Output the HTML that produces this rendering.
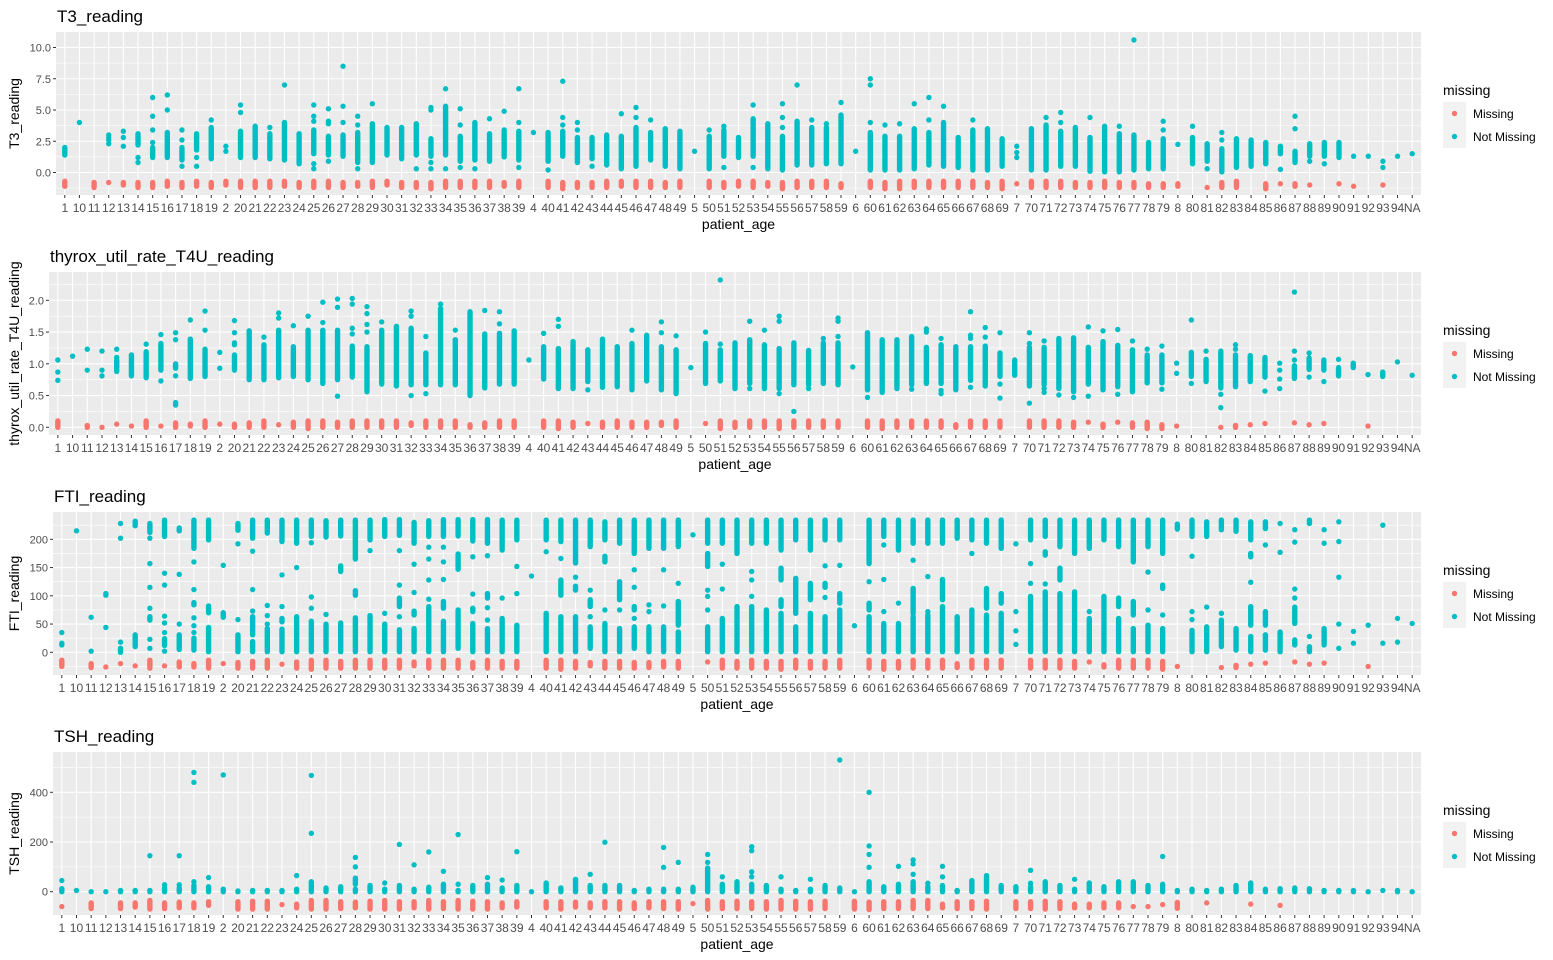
<!DOCTYPE html>
<html><head><meta charset="utf-8"><style>
html,body{margin:0;padding:0;background:#fff;}
svg{display:block;font-family:"Liberation Sans",Arial,sans-serif;}
</style></head><body>
<svg id="chart" width="1553" height="960" viewBox="0 0 1553 960" xmlns="http://www.w3.org/2000/svg"></svg>
<script>
const categories = ["1","10","11","12","13","14","15","16","17","18","19","2","20","21","22","23","24","25","26","27","28","29","30","31","32","33","34","35","36","37","38","39","4","40","41","42","43","44","45","46","47","48","49","5","50","51","52","53","54","55","56","57","58","59","6","60","61","62","63","64","65","66","67","68","69","7","70","71","72","73","74","75","76","77","78","79","8","80","81","82","83","84","85","86","87","88","89","90","91","92","93","94","NA"];

const t3Present = [[[1.4,2.0]],[4.0],[],[2.3,2.6,2.8,3.0],[2.1,2.8,3.3],[[2.2,3.1],1.2,0.8],[[1.2,2.0],2.4,3.4,4.5,6.0],[[1.2,3.2],5.0,6.2],[[1.0,2.0],0.5,2.6,3.4],[[1.8,3.1],1.2,0.5],[[1.1,3.6],4.2],[1.7,2.1],[[1.2,3.3],4.8,5.4],[[1.2,3.7]],[[1.1,3.1],3.6],[[1.0,4.0],7.0],[[0.7,3.1]],[[1.5,3.4],0.7,0.3,4.1,4.5,5.4],[[1.4,2.9],0.9,3.9,4.1,5.1],[[1.3,3.0],4.0,5.3,8.5],[[0.8,3.2],0.3,3.8,4.5],[[0.8,3.9],5.5],[[1.4,3.6]],[[1.1,3.6]],[[1.4,3.9],0.3],[[1.3,2.7],0.3,0.8,5.0,5.2],[[1.4,5.3],0.3,6.7],[[0.9,2.9],0.4,3.8,5.1],[[1.0,4.0],0.3],[[0.9,3.1],4.3],[[1.25,3.4],4.9],[[1.0,3.3],0.4,4.0,6.7],[3.2],[[0.9,3.2],0.2],[[1.3,3.3],3.8,4.4,7.3],[[0.8,2.8],3.4,4.0],[[1.1,2.8],0.5],[[0.6,3.0]],[[0.3,2.9],4.7],[[0.5,3.6],4.4,5.2],[[1.0,3.2],4.2],[[0.5,3.5]],[[0.3,3.3]],[1.7],[[0.3,2.9],3.4],[[1.3,3.4],0.4,3.7],[[1.2,2.8]],[[1.3,4.3],0.4,5.4],[[0.3,3.9]],[[0.2,2.9],3.6,4.4,5.5],[[0.6,4.1],7.0],[[0.6,3.6],4.2],[[0.7,3.6],3.9],[[0.7,4.6],5.6],[1.7],[[0.2,3.2],4.0,7.0,7.5],[[0.2,2.9],3.8],[[0.2,2.9],3.9],[[0.3,3.5],5.5],[[0.6,3.2],4.2,6.0],[[0.5,4.0],5.3],[[0.4,2.8]],[[0.2,3.4],4.2],[[0.2,3.5]],[[0.5,2.7]],[1.2,1.6,2.1],[[0.2,3.5]],[[0.2,3.8],4.4],[[0.5,3.3],4.0,4.8],[[0.5,3.6]],[[0.1,2.8],4.4],[[0.05,3.7]],[[0.05,3.1],3.7],[[0.2,3.0],10.6],[[0.3,2.4]],[[0.3,2.7],3.4,4.1],[2.25],[[0.7,2.8],3.7],[[0.9,2.3],0.3],[[0.05,1.9],2.6,3.2],[[0.4,2.7]],[[0.5,2.6]],[[0.7,2.4]],[[1.5,2.1],0.25],[[0.8,1.7],3.5,4.5],[[1.3,2.3],0.9],[[1.3,2.4],0.7],[[1.2,2.4]],[1.3],[1.3],[0.9,0.4],[1.3],[1.5]];
const t3Missing = [[[-1.1,-0.7]],[],[[-1.2,-0.8]],[-0.8],[[-1.0,-0.8]],[[-1.2,-0.8]],[[-1.2,-0.8]],[[-1.1,-0.7]],[[-1.2,-0.8]],[[-1.1,-0.7]],[[-1.2,-0.8]],[[-1.0,-0.7]],[[-1.2,-0.7]],[[-1.2,-0.7]],[[-1.2,-0.7]],[[-1.1,-0.7]],[[-1.2,-0.8]],[[-1.2,-0.7]],[[-1.2,-0.7]],[[-1.2,-0.8]],[[-1.1,-0.8]],[[-1.2,-0.7]],[[-1.0,-0.7]],[[-1.2,-0.8]],[[-1.2,-0.8]],[[-1.3,-0.8]],[[-1.2,-0.7]],[[-1.2,-0.7]],[[-1.2,-0.7]],[[-1.2,-0.7]],[[-1.1,-0.8]],[[-1.2,-0.7]],[],[[-1.2,-0.7]],[[-1.3,-0.8]],[[-1.2,-0.8]],[[-1.2,-0.8]],[[-1.2,-0.7]],[[-1.1,-0.7]],[[-1.2,-0.7]],[[-1.2,-0.7]],[[-1.2,-0.8]],[[-1.2,-0.7]],[],[[-1.2,-0.7]],[[-1.2,-0.8]],[[-1.1,-0.7]],[[-1.2,-0.7]],[[-1.1,-0.8]],[[-1.3,-0.8]],[[-1.2,-0.7]],[[-1.2,-0.7]],[[-1.2,-0.7]],[[-1.2,-0.9]],[],[[-1.2,-0.7]],[[-1.3,-0.8]],[[-1.3,-0.7]],[[-1.2,-0.7]],[[-1.2,-0.7]],[[-1.2,-0.7]],[[-1.2,-0.7]],[[-1.2,-0.7]],[[-1.2,-0.8]],[[-1.3,-0.7]],[-0.9],[[-1.2,-0.7]],[[-1.2,-0.7]],[[-1.2,-0.7]],[[-1.2,-0.8]],[[-1.2,-0.8]],[[-1.2,-0.7]],[[-1.2,-0.8]],[[-1.2,-0.8]],[[-1.2,-0.9]],[[-1.2,-0.9]],[[-1.1,-0.9]],[],[-1.2],[[-1.2,-0.8]],[[-1.2,-0.7]],[],[[-1.3,-0.9]],[-0.9],[[-1.1,-0.9]],[-1.0],[],[-0.9],[-1.1],[],[-1.0],[]];

const t4uPresent = [[1.06,0.87,0.74],[1.12],[1.23,0.9],[1.2,0.9,0.81],[[0.88,1.06],1.1,1.23],[[0.81,1.14]],[[0.78,1.19],1.31],[[0.9,1.32],1.46,0.73],[1.49,1.38,[0.93,1.0],0.81,[0.35,0.39]],[[0.77,1.39],1.69],[[0.8,1.23],1.53,1.83],[1.18,0.93],[[0.9,1.14],1.3,1.33,1.49,1.68],[[0.75,1.52]],[[0.75,1.3],1.42],[[0.78,1.53],1.72,1.8],[[0.8,1.27],1.6],[[0.75,1.53],1.75],[[0.69,1.53],1.65,1.97],[[0.75,1.53],1.89,2.02,0.49],[[0.79,1.28],1.47,1.56,1.94,2.03],[[0.59,1.27],1.5,1.62,1.79,1.9,0.56],[[0.68,1.53],1.66],[[0.65,1.59]],[[0.67,1.56],1.75,1.83,0.5],[[0.67,1.17],1.43,0.53],[[0.67,1.87],1.94],[[0.67,1.38],1.53],[[0.5,1.82]],[[0.62,1.47],1.84],[[0.68,1.48],1.82,1.63],[[0.68,1.52]],[1.06],[[0.76,1.27],1.48],[[0.61,1.24],1.59,1.70],[[0.61,1.35]],[[0.72,1.22],0.59],[[0.63,1.39]],[[0.64,1.27]],[[0.59,1.32],1.53],[[0.73,1.45]],[[0.59,1.27],1.66,1.49],[[0.53,1.22],1.44],[0.94],[[0.69,1.32],1.5],[[0.73,1.22],2.32,1.31],[[0.61,1.33]],[[0.69,1.38],1.67,0.61],[[0.61,1.3],1.53],[[0.61,1.24],1.67,1.75,0.53],[[0.67,1.33],0.25],[[0.67,1.21],0.61],[[0.69,1.33],1.4],[[0.67,1.33],1.43,1.67,1.72],[0.95],[[0.59,1.49],0.47],[[0.55,1.38]],[[0.61,1.38]],[[0.67,1.43],0.6],[[0.69,1.26],1.5,1.55],[[0.69,1.3],1.4,0.53,0.58],[[0.59,1.27]],[[0.74,1.27],1.4,1.45,1.82,0.63],[[0.65,1.28],1.42,1.57],[[0.8,1.17],1.49,0.68,0.46],[[0.82,1.06]],[[0.65,1.26],1.49,1.32,0.38],[[0.67,1.26],1.36,0.55,0.61],[[0.61,1.4],0.51],[[0.56,1.41],0.47],[[0.68,1.26],1.58,0.49],[[0.59,1.35],1.52],[[0.64,1.29],1.54,0.52],[[0.56,1.22],1.36],[[0.7,1.14],1.23],[[0.7,1.14],1.28,0.6],[1.01,0.85],[[0.8,1.18],1.69,0.69],[[0.72,1.07],1.2],[[0.62,1.2],0.52,0.31],[[0.64,1.14],1.23,1.3],[[0.72,1.13]],[[0.79,1.1],0.57],[1.01,0.9,0.76,0.61],[[0.77,0.97],2.13,1.2,1.06],[[0.91,1.09],1.17,0.79],[[0.9,1.06],0.72],[[0.81,0.94],1.07],[[0.94,1.01]],[0.83],[[0.8,0.87]],[1.03],[0.82]];
const t4uMissing = [[[0,0.1]],[],[[0,0.03]],[0],[0.05],[0.02],[[0,0.1]],[0.02],[[0,0.07]],[[0.02,0.05]],[[0,0.1]],[0.05],[[0,0.05]],[[0,0.07]],[[0,0.1]],[0.04],[[0,0.08]],[[-0.02,0.1]],[[0,0.1]],[[0,0.08]],[[0,0.1]],[[0,0.1]],[[0,0.1]],[[0,0.1]],[[0.03,0.07]],[[0,0.1]],[[0,0.1]],[[0,0.1]],[[0,0.04]],[[0,0.07]],[[0,0.1]],[[0,0.1]],[],[[0,0.1]],[[-0.02,0.1]],[[0,0.08]],[0.06],[[0,0.08]],[[0,0.1]],[[0,0.08]],[[0,0.08]],[[0.03,0.08]],[[0,0.1]],[],[0.06],[[-0.02,0.1]],[[0,0.08]],[[0,0.1]],[[0,0.1]],[[-0.02,0.1]],[[0,0.1]],[[0,0.1]],[[0,0.1]],[[0,0.1]],[],[[0,0.1]],[[-0.02,0.1]],[[0,0.1]],[[0,0.1]],[[0,0.1]],[[0,0.1]],[[0,0.04]],[[0,0.1]],[[0,0.1]],[[0,0.1]],[],[[0,0.1]],[[0,0.1]],[[0,0.1]],[[0,0.08]],[0.08],[[0,0.05]],[0.08],[[0,0.07]],[[-0.02,0.08]],[[-0.02,0.04]],[0.02],[],[],[0.0],[[0,0.03]],[0.04],[0.06],[],[0.07],[0.04],[0.06],[],[],[0.02],[],[],[]];

const ftiPresent = [[35,16,13],[215],[62,2],[104,101,44],[228,202,18,[0,7]],[[224,232],[10,31]],[[212,228],202,157,115,78,[57,63],23,7],[[205,234],140,119,64,52,35,[12,24],2],[[215,220],138,50,[5,31]],[[184,234],160,111,[84,88],61,47,35,[4,25]],[[199,234],[70,82],[1,44]],[154,[62,70]],[[216,228],192,58,[1,31]],[[202,234],179,111,73,[31,63],[1,19]],[[211,234],83,65,50,[1,42]],[[196,234],137,81,[54,60],[1,41]],[[193,234],150,[1,63]],[[205,234],194,98,78,[1,55]],[[204,233],67,[1,50]],[[206,234],[143,153],[1,52]],[[165,234],[101,109],[1,61]],[[199,234],180,[1,65]],[[205,235],69,[1,50]],[[207,235],180,119,[81,96],63,[1,40]],[[193,230],156,106,[66,73],[1,42]],[[205,233],186,165,128,94,[1,81]],[[205,235],186,160,129,[78,90],[1,55]],[[206,235],[147,174],[7,75]],[[197,235],169,103,[72,78],[1,51]],[[193,235],171,[96,104],79,57,[1,42]],[[181,234],96,[1,60]],[[199,234],152,104,[1,48]],[135],[[199,234],178,[1,69]],[[196,234],166,[101,128],[1,63]],[[158,234],133,[110,117],[1,63]],[[187,234],110,[81,93],63,[7,45]],[[199,231],[160,170],75,[1,51]],[[193,234],[93,125],75,[1,42]],[[175,234],146,115,[75,81],60,[7,45]],[[184,234],84,72,[1,45]],[[184,234],146,82,[1,45]],[[187,234],122,[48,90],[1,36]],[208],[[193,234],[152,175],110,99,75,[1,45]],[[193,234],156,112,[1,60]],[[175,234],[1,81]],[[193,234],143,128,99,[1,81]],[[193,234],[1,75]],[[181,234],[128,149],[81,93],[1,69]],[[199,234],[69,131],[1,45]],[[181,234],[93,122],[1,69]],[[199,234],153,[115,122],97,[1,63]],[[199,234],154,[87,104],[1,75]],[47],[[157,234],125,[75,87],[1,63]],[[205,234],190,129,72,[1,51]],[[181,234],87,[1,51]],[[193,234],163,[69,113],[1,63]],[[193,234],134,72,[1,66]],[[193,234],[93,129],[1,81]],[[202,234],[1,63]],[[199,234],175,[1,75]],[[193,234],[78,113],[1,66]],[[184,234],[87,104],[1,69]],[192,72,38,14],[[199,234],157,122,[1,99]],[[205,234],[172,178],121,[1,107]],[[187,234],[128,149],[1,104]],[[175,234],[1,107]],[[184,234],72,[1,60]],[[199,234],[1,99]],[[187,234],[81,96],[1,60]],[[160,234],[66,90],[1,42]],[[187,234],142,75,[1,48]],[[175,234],[113,119],66,[1,42]],[[218,227]],[[205,234],170,72,58,[1,39]],[[205,231],80,[1,45]],[[217,234],69,[10,57]],[[214,234],[4,42]],[[199,231],[169,175],124,[48,81],[1,28]],[[219,231],190,[48,72],[4,31]],[228,177,[1,36]],[217,195,112,96,[51,80],[13,22]],[[228,234],28,[1,10]],[217,193,[13,42]],[231,196,133,50,7],[37,16],[48],[225,16],[60,18],[51]];
const ftiMissing = [[[-25,-14]],[],[[-27,-20]],[-26],[-20],[-24],[[-28,-14]],[-24],[[-26,-17]],[[-26,-20]],[[-28,-14]],[-20],[[-28,-18]],[[-28,-16]],[[-28,-14]],[-21],[[-28,-17]],[[-30,-14]],[[-28,-14]],[[-28,-16]],[[-28,-14]],[[-28,-14]],[[-28,-14]],[[-28,-14]],[[-24,-17]],[[-28,-14]],[[-28,-14]],[[-28,-14]],[[-28,-18]],[[-28,-14]],[[-28,-16]],[[-28,-16]],[],[[-28,-14]],[[-30,-14]],[[-28,-16]],[[-24,-18]],[[-28,-16]],[[-28,-16]],[[-28,-18]],[[-27,-18]],[[-26,-16]],[[-28,-16]],[],[-17],[[-28,-14]],[[-28,-16]],[[-28,-14]],[[-28,-16]],[[-30,-16]],[[-28,-14]],[[-28,-16]],[[-28,-16]],[[-28,-14]],[],[[-28,-14]],[[-30,-16]],[[-28,-16]],[[-28,-14]],[[-28,-14]],[[-28,-14]],[[-27,-20]],[[-28,-14]],[[-28,-14]],[[-28,-14]],[],[[-28,-14]],[[-28,-14]],[[-28,-14]],[[-28,-16]],[-17],[[-26,-22]],[[-28,-14]],[[-28,-14]],[[-28,-14]],[[-30,-16]],[-25],[],[],[-27],[[-27,-23]],[-21],[-19],[],[-17],[-21],[-19],[],[],[-25],[],[],[]];

const tshPresent = [[[0,12],45],[5],[0],[0],[[0,5]],[[0,5]],[[0,5],145],[[0,15],28],[[0,15],28,145],[[0,25],40,440,480],[[0,20],57],[[0,10],470],[[0,3]],[[0,5]],[[0,5]],[[0,5]],[[0,10],65],[[0,40],235,468],[[0,15]],[[0,20]],[[0,10],[30,55],100,138],[[0,25]],[[0,10],35],[[0,25],190],[[0,10],108],[[0,18],160],[[0,30],82],[[0,5],30,230],[[0,25]],[[0,30],57],[[0,15],47],[[0,25],161],[0],[[0,35]],[[0,15]],[[0,50]],[[0,25],70],[[0,25],199],[[0,25]],[[0,5]],[[0,10]],[[0,10],98,178],[[0,10],118],[[0,18]],[[0,95],118,150],[[0,30],60],[[0,40]],[[0,30],60,80,165,181],[[0,25]],[[0,10],60],[[0,5]],[[0,10],50],[[0,25]],[[0,15],530],[0],[[0,40],98,150,184,400],[[0,20]],[[0,30],102],[[0,40],70,112,128],[[0,20],34],[[0,25],60,102],[[0,5]],[[0,45]],[[0,65]],[[0,25]],[[0,20]],[[0,20],34,86],[[0,40]],[[0,25]],[[0,10],50],[[0,35]],[[0,20]],[[0,40]],[[0,40]],[[0,25]],[[0,30],142],[[0,5]],[[0,10]],[[0,5]],[[0,10]],[[0,25]],[[0,35]],[[0,10]],[[0,12]],[[0,15]],[[0,12]],[[0,5]],[[0,5]],[[0,5]],[0],[5],[[0,5]],[0]];
const tshMissing = [[-60],[],[[-68,-45]],[],[[-68,-45]],[[-62,-45]],[[-70,-35]],[[-68,-45]],[[-65,-42]],[[-65,-45]],[[-55,-40]],[],[[-70,-40]],[[-70,-38]],[[-70,-38]],[-52],[[-65,-50]],[[-70,-35]],[[-70,-35]],[[-68,-40]],[[-65,-42]],[[-70,-38]],[[-70,-35]],[[-70,-40]],[[-65,-40]],[[-70,-35]],[[-68,-40]],[[-70,-35]],[[-70,-38]],[[-70,-40]],[[-65,-45]],[[-62,-40]],[],[[-65,-40]],[[-70,-40]],[[-62,-42]],[[-65,-45]],[[-65,-40]],[[-70,-40]],[[-68,-45]],[[-65,-40]],[[-68,-40]],[[-70,-40]],[-48],[[-70,-35]],[[-68,-40]],[[-68,-38]],[[-68,-40]],[[-70,-40]],[[-70,-35]],[[-70,-38]],[[-70,-40]],[[-68,-38]],[],[[-70,-38]],[[-72,-42]],[[-68,-40]],[[-68,-40]],[[-68,-35]],[[-68,-35]],[[-65,-50]],[[-68,-40]],[[-68,-40]],[[-70,-38]],[],[[-68,-40]],[[-68,-40]],[[-70,-38]],[[-68,-40]],[[-65,-50]],[[-65,-50]],[[-65,-45]],[[-65,-45]],[-60],[-60],[-52],[[-67,-43]],[],[-45],[],[],[-50],[],[-55],[],[],[],[],[],[],[]];

const panels = [
  {name:"T3_reading", key:"t3", present:t3Present, missing:t3Missing, ticks:[0,2.5,5,7.5,10], tickLabels:["0.0","2.5","5.0","7.5","10.0"], minor:[-1.25,1.25,3.75,6.25,8.75], left:56, y0:172.5, k:12.5},
  {name:"thyrox_util_rate_T4U_reading", key:"t4u", present:t4uPresent, missing:t4uMissing, ticks:[0,0.5,1,1.5,2], tickLabels:["0.0","0.5","1.0","1.5","2.0"], minor:[0.25,0.75,1.25,1.75,2.25], left:49, y0:187.3, k:63.5},
  {name:"FTI_reading", key:"fti", present:ftiPresent, missing:ftiMissing, ticks:[0,50,100,150,200], tickLabels:["0","50","100","150","200"], minor:[-25,25,75,125,175,225], left:53, y0:172.3, k:0.565},
  {name:"TSH_reading", key:"tsh", present:tshPresent, missing:tshMissing, ticks:[0,200,400], tickLabels:["0","200","400"], minor:[100,300,500], left:53, y0:171.7, k:0.2485}
];

const NS="http://www.w3.org/2000/svg";
const svg=document.getElementById('chart');
function mk(tag,attrs,parent){const e=document.createElementNS(NS,tag);for(const a in attrs)e.setAttribute(a,attrs[a]);(parent||svg).appendChild(e);return e;}
const RIGHT=1421, TOP=32, BOT=195, R=2.7;
const COL_MISS="#F8766D", COL_OK="#00BFC4";

panels.forEach((p,pi)=>{
  const off=pi*240;
  const g=mk('g',{transform:'translate(0,'+off+')'});
  
  
  const step=(RIGHT-p.left)/(categories.length-1+1.2);
  const xs=i=>p.left+step*(0.6+i);
  const ys=v=>p.y0-p.k*v;
  const bg=mk('rect',{x:p.left,y:TOP,width:RIGHT-p.left,height:BOT-TOP,fill:'#EBEBEB'},g);
  
  
  p.minor.forEach(v=>{const y=ys(v);if(y>TOP&&y<BOT)mk('line',{x1:p.left,x2:RIGHT,y1:y,y2:y,stroke:'#fff','stroke-width':0.55},g);});
  p.ticks.forEach(v=>{const y=ys(v);mk('line',{x1:p.left,x2:RIGHT,y1:y,y2:y,stroke:'#fff','stroke-width':1.1},g);});
  categories.forEach((c,i)=>{const x=xs(i);mk('line',{x1:x,x2:x,y1:TOP,y2:BOT,stroke:'#fff','stroke-width':1.1},g);});
  p.ticks.forEach((v,i)=>{const y=ys(v);
    mk('line',{x1:p.left-3,x2:p.left,y1:y,y2:y,stroke:'#333','stroke-width':1},g);
    const t=mk('text',{x:p.left-5,y:y+4,'text-anchor':'end','font-size':'11',fill:'#4d4d4d'},g);t.textContent=p.tickLabels[i];
    
    
  });
  categories.forEach((c,i)=>{const x=xs(i);
    mk('line',{x1:x,x2:x,y1:BOT,y2:BOT+3,stroke:'#333','stroke-width':1},g);
    const t=mk('text',{x:x,y:BOT+17,'text-anchor':'middle','font-size':'12',fill:'#4d4d4d'},g);t.textContent=c;
    
    
  });
  function drawSet(arr,color,label){
    arr.forEach((items,i)=>{const x=xs(i);
      items.forEach(it=>{
        if(Array.isArray(it)){
          const y1=ys(it[0]),y2=ys(it[1]);
          const l=mk('line',{x1:x,x2:x,y1:y1,y2:y2,stroke:color,'stroke-width':2*R,'stroke-linecap':'round'},g);
          
          
        } else {
          const d=mk('circle',{cx:x,cy:ys(it),r:R,fill:color},g);
          
          
        }
      });
    });
  }
  drawSet(p.missing,COL_MISS,'missing');
  drawSet(p.present,COL_OK,'not-missing');
  const tt=mk('text',{x:p.left+1,y:22,'font-size':'17',fill:'#000'},g);tt.textContent=p.name;
  
  
  const xt=mk('text',{x:(p.left+RIGHT)/2,y:BOT+34,'text-anchor':'middle','font-size':'14',fill:'#000'},g);xt.textContent='patient_age';
  
  
  const ycy=(TOP+BOT)/2;
  const yt=mk('text',{x:0,y:0,'text-anchor':'middle','font-size':'14',fill:'#000',transform:'translate(19,'+ycy+') rotate(-90)'},g);yt.textContent=p.name;
  
  
  const lg=mk('g',{},g);
  
  
  const lt=mk('text',{x:1443,y:95,'font-size':'14',fill:'#000'},lg);lt.textContent='missing';
  
  
  [['Missing',COL_MISS],['Not Missing',COL_OK]].forEach((e,j)=>{
    const ky=102+j*23;
    const ent=mk('g',{},lg);
    
    
    mk('rect',{x:1443,y:ky,width:23,height:23,fill:'#F2F2F2'},ent);
    mk('circle',{cx:1454.5,cy:ky+11.5,r:R,fill:e[1]},ent);
    const lb=mk('text',{x:1473,y:ky+16,'font-size':'12',fill:'#000'},ent);lb.textContent=e[0];
  });
});
</script>
</body></html>
